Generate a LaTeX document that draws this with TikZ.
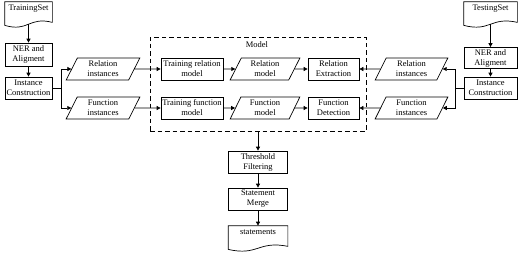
\documentclass[tikz,border=0pt]{standalone}
\usepackage{fontspec}
\setmainfont{Liberation Serif}
\usetikzlibrary{shapes.geometric,arrows.meta,calc}
\newcommand\drawdoc[1]{%
  \draw (#1.north west) -- (#1.north east) -- ($(#1.south east)+(0,-4)$)
    .. controls ($(#1.south)+(0,-10)$) and ($(#1.south)+(0,6)$) ..
    ($(#1.south west)+(0,-1)$) -- cycle;}
\begin{document}
\begin{tikzpicture}[x=1pt,y=-1pt,
  font=\fontsize{8.5}{10}\selectfont,
  line width=0.7pt,
  box/.style={draw, rectangle, align=center, inner sep=1pt, minimum height=22pt},
  para/.style={draw, trapezium, trapezium left angle=68, trapezium right angle=112,
    trapezium stretches=true, align=center, minimum height=22pt, inner sep=1pt},
  doc/.style={rectangle, align=center, inner sep=1pt},
  arr/.style={-{Triangle[length=4pt,width=4pt]}}]
\useasboundingbox (0,0) rectangle (520,255);

% left column
\node[doc, minimum width=47pt, minimum height=24pt] (TSl) at (28.5,14) {TrainingSet\\[2pt]};
\node[box, minimum width=47pt, minimum height=23pt] (NERl) at (28.5,54.5) {NER and\\Aligment};
\node[box, minimum width=47pt] (ICl) at (28.5,88) {Instance\\Construction};
\node[para, minimum width=74pt] (RIl) at (103,69) {Relation\\instances};
\node[para, minimum width=74pt] (FIl) at (103,108) {Function\\instances};

% model
\node[draw, dash pattern=on 4.5pt off 3pt, minimum width=216pt, minimum height=94pt, inner sep=0pt] (model) at (258,84) {};
\node (mlabel) at (257,45) {Model};
\node[box, minimum width=62pt] (TRM) at (192,69) {Training relation\\model};
\node[box, minimum width=62pt] (TFM) at (192,108) {Training function\\model};
\node[para, minimum width=70pt] (RM) at (265,69) {Relation\\model};
\node[para, minimum width=70pt] (FM) at (265,108) {Function\\model};
\node[box, minimum width=51pt] (RE) at (333.5,69) {Relation\\Extraction};
\node[box, minimum width=51pt] (FD) at (333.5,108) {Function\\Detection};

% right column
\node[para, minimum width=73pt] (RIr) at (411.5,69) {Relation\\instances};
\node[para, minimum width=73pt] (FIr) at (411.5,108) {Function\\instances};
\node[doc, minimum width=53pt, minimum height=24pt] (TSr) at (490.5,14) {TestingSet\\[2pt]};
\node[box, minimum width=53pt, minimum height=21pt] (NERr) at (490.5,58) {NER and\\Aligment};
\node[box, minimum width=53pt] (ICr) at (490.5,88) {Instance\\Construction};

% bottom
\node[box, minimum width=59pt] (TF) at (258,162) {Threshold\\Filtering};
\node[box, minimum width=59pt] (SM) at (258,199) {Statement\\Merge};
\node[doc, minimum width=59pt, minimum height=24pt] (ST) at (258,238) {statements\\[2pt]};

\drawdoc{TSl}
\drawdoc{TSr}
\drawdoc{ST}

\coordinate (bl) at (61,88);
\coordinate (br) at (455,88);

% connectors
\draw[arr] ($(TSl.south)+(0,-2)$) -- (NERl);
\draw[arr] (NERl) -- (ICl);
\draw (ICl.east) -- (bl);
\draw[arr] (bl) |- (RIl.west);
\draw[arr] (bl) |- (FIl.west);
\draw[arr] (RIl.east) -- (TRM.west);
\draw[arr] (FIl.east) -- (TFM.west);
\draw[arr] (TRM) -- (RM);
\draw[arr] (TFM) -- (FM);
\draw[arr] (RM) -- (RE);
\draw[arr] (FM) -- (FD);
\draw[arr] (RIr.west) -- (RE.east);
\draw[arr] (FIr.west) -- (FD.east);
\draw[arr] ($(TSr.south)+(0,-2)$) -- (NERr);
\draw[arr] (NERr) -- (ICr);
\draw (ICr.west) -- (br);
\draw[arr] (br) |- (RIr.east);
\draw[arr] (br) |- (FIr.east);
\draw[arr] (model.south) -- (TF);
\draw[arr] (TF) -- (SM);
\draw[arr] (SM) -- (ST.north);
\end{tikzpicture}
\end{document}
